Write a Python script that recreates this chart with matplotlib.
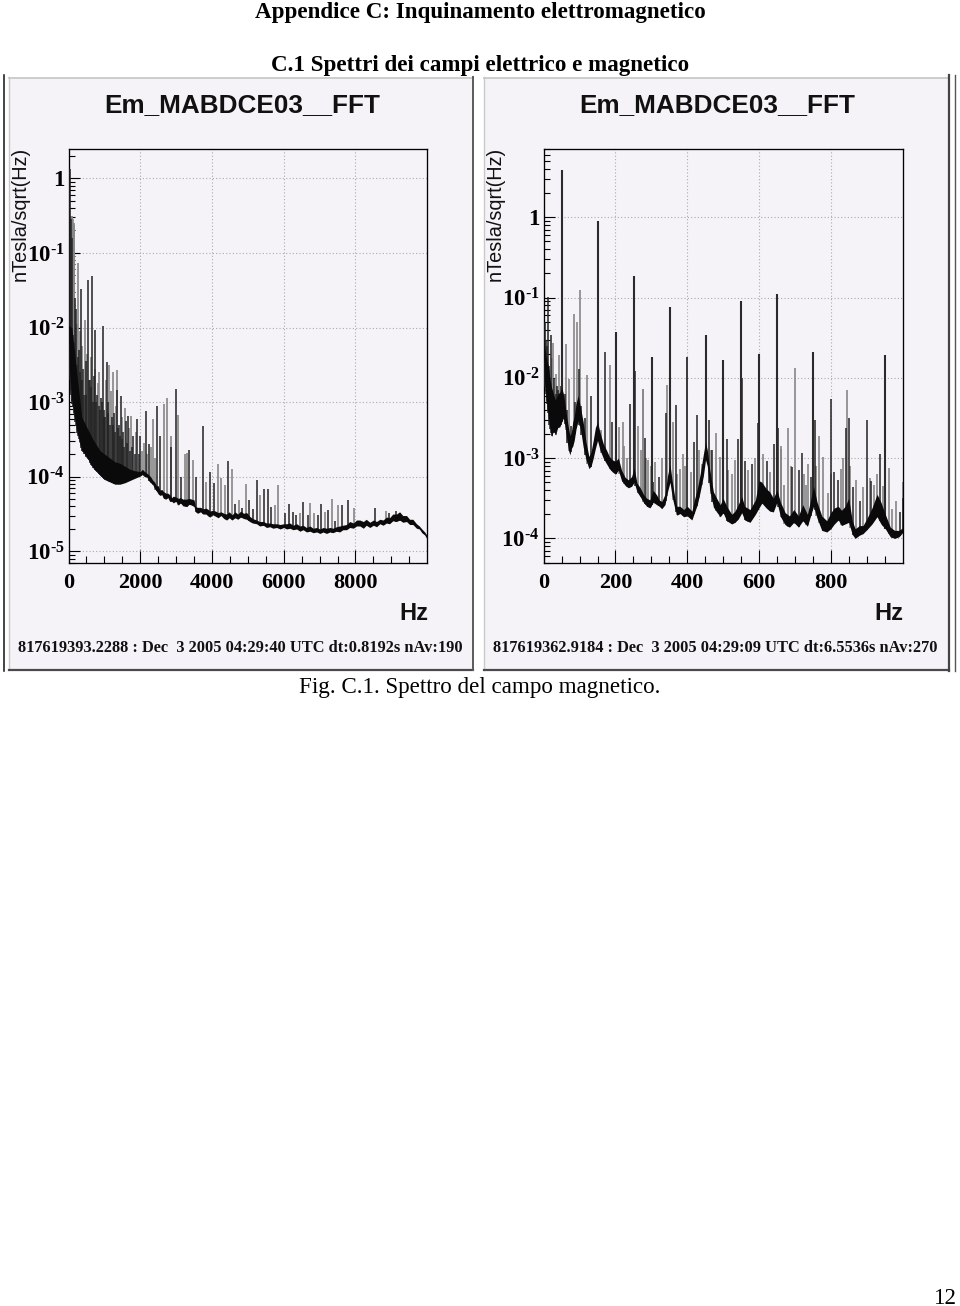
import numpy as np
import matplotlib
matplotlib.use("Agg")
import matplotlib.pyplot as plt
from matplotlib.patches import Rectangle
from matplotlib.lines import Line2D
from matplotlib.ticker import LogLocator, NullFormatter, FixedLocator

plt.rcParams['mathtext.fontset'] = 'custom'
plt.rcParams['mathtext.bf'] = 'Liberation Serif:bold'
plt.rcParams['mathtext.rm'] = 'Liberation Serif:bold'
plt.rcParams['mathtext.default'] = 'bf'

# ---------- text ----------
page_title = "Appendice C: Inquinamento elettromagnetico"
section_title = "C.1 Spettri dei campi elettrico e magnetico"
caption = "Fig. C.1. Spettro del campo magnetico."
page_number = "12"
panel_title = "Em_MABDCE03__FFT"
y_title = "nTesla/sqrt(Hz)"
x_title = "Hz"
left_stamp = "817619393.2288 : Dec  3 2005 04:29:40 UTC dt:0.8192s nAv:190"
right_stamp = "817619362.9184 : Dec  3 2005 04:29:09 UTC dt:6.5536s nAv:270"

left_xticks = [0, 2000, 4000, 6000, 8000]
right_xticks = [0, 200, 400, 600, 800]
left_yticks = [1, 1e-1, 1e-2, 1e-3, 1e-4, 1e-5]
right_yticks = [1, 1e-1, 1e-2, 1e-3, 1e-4]
left_ylabels = ["1", r"$10^{\text{-}1}$", r"$10^{\text{-}2}$", r"$10^{\text{-}3}$", r"$10^{\text{-}4}$", r"$10^{\text{-}5}$"]
right_ylabels = ["1", r"$10^{\text{-}1}$", r"$10^{\text{-}2}$", r"$10^{\text{-}3}$", r"$10^{\text{-}4}$"]

# ---------- left spectrum (log10 of nT/sqrt(Hz)) ----------
left_band_hz = [0, 25, 90, 228, 368, 524, 683, 878, 1017, 1156, 1295, 1435, 1574, 1713, 1853,
                2000, 2060, 2120, 2179, 2230, 2290, 2354, 2400, 2450, 2500, 2549, 2600, 2650, 2716, 2770, 2820, 2880, 2920,
                2990, 3060, 3120, 3190, 3293, 3360, 3430, 3500, 3540, 3600, 3680, 3750, 3830, 3900, 3942, 4020, 4100, 4170,
                4250, 4330, 4408, 4480, 4560, 4640, 4720, 4800, 4880, 4965, 5050, 5130, 5243, 5330, 5430, 5520, 5614, 5700,
                5800, 5900, 6000, 6079, 6170, 6260, 6360, 6450, 6540, 6636, 6730, 6820, 6920, 7007, 7100, 7190, 7290, 7369,
                7470, 7560, 7650, 7751, 7840, 7940, 8030, 8122, 8220, 8300, 8400, 8500, 8587, 8680, 8770, 8865, 8950, 9040,
                9144, 9230, 9320, 9423, 9510, 9600, 9701, 9780, 9850, 9930, 10000]
left_band_low = [-2.03, -2.54, -2.97, -3.37, -3.64, -3.75, -3.88, -3.98, -4.04, -4.07, -4.10, -4.10, -4.08, -4.05, -4.02,
                 -3.99, -3.97, -4.00, -4.00, -4.05, -4.08, -4.11, -4.16, -4.19, -4.23, -4.25, -4.24, -4.29, -4.30, -4.28, -4.33, -4.33, -4.35,
                 -4.33, -4.38, -4.35, -4.39, -4.40, -4.37, -4.38, -4.40, -4.47, -4.49, -4.47, -4.50, -4.50, -4.53, -4.54, -4.51, -4.53, -4.55,
                 -4.52, -4.56, -4.58, -4.55, -4.58, -4.55, -4.57, -4.54, -4.56, -4.57, -4.60, -4.62, -4.63, -4.66, -4.65, -4.68, -4.67, -4.69,
                 -4.68, -4.70, -4.68, -4.70, -4.69, -4.71, -4.70, -4.73, -4.71, -4.74, -4.73, -4.75, -4.74, -4.76, -4.74, -4.76, -4.74, -4.75,
                 -4.73, -4.74, -4.71, -4.71, -4.68, -4.69, -4.66, -4.66, -4.69, -4.65, -4.68, -4.65, -4.67, -4.63, -4.65, -4.62, -4.63, -4.59,
                 -4.60, -4.58, -4.61, -4.60, -4.64, -4.64, -4.69, -4.70, -4.75, -4.78, -4.84]
left_band_high = [-1.97, -1.98, -2.00, -2.60, -3.20, -3.35, -3.50, -3.65, -3.70, -3.75, -3.80, -3.82, -3.86, -3.90, -3.92,
                  -3.93, -3.90, -3.93, -3.95, -3.97, -4.00, -4.05, -4.07, -4.12, -4.12, -4.18, -4.17, -4.20, -4.22, -4.22, -4.24, -4.28, -4.26,
                  -4.27, -4.29, -4.28, -4.30, -4.30, -4.29, -4.30, -4.31, -4.40, -4.41, -4.41, -4.43, -4.42, -4.44, -4.46, -4.45, -4.46, -4.48,
                  -4.47, -4.49, -4.50, -4.47, -4.51, -4.47, -4.50, -4.46, -4.49, -4.48, -4.53, -4.56, -4.58, -4.60, -4.60, -4.62, -4.62, -4.63,
                  -4.63, -4.64, -4.63, -4.63, -4.62, -4.65, -4.63, -4.66, -4.65, -4.68, -4.66, -4.69, -4.68, -4.70, -4.68, -4.69, -4.68, -4.69,
                  -4.67, -4.66, -4.65, -4.64, -4.60, -4.62, -4.58, -4.58, -4.60, -4.57, -4.61, -4.58, -4.60, -4.57, -4.58, -4.54, -4.55, -4.50,
                  -4.50, -4.47, -4.52, -4.52, -4.57, -4.57, -4.63, -4.66, -4.70, -4.74, -4.79]

left_dark_hz = [40, 80, 110, 357, 543, 655, 747, 952, 1063, 1343, 1454, 1657, 1917, 2000, 2159, 2251, 2457, 2549, 2847, 2994,
                3142, 3357, 3552, 3747, 3950, 4053, 4451, 4646, 4850, 5036, 5148, 5251, 5446, 5549, 5649, 6031, 6134, 6245,
                6345, 6551, 6663, 6942, 7053, 7248, 7443, 7627, 7805, 8546, 8947, 9142, 9253,
                170, 210, 290, 410, 480, 600, 700, 800, 900, 1000, 1110, 1200, 1280, 1400, 1520, 1600, 1800,
                15, 30, 50, 70, 95, 125, 150, 190, 250, 270, 310, 340, 380, 440, 500, 560, 640, 680, 760, 840, 880, 930, 980,
                1030, 1090, 1150, 1240, 1300, 1370, 1430, 1500, 1560, 1640, 1720, 1780, 1850, 1960]
left_dark_log = [0.125, -0.55, -0.80, -1.48, -1.36, -1.31, -2.03, -1.98, -2.46, -2.84, -2.92, -3.19, -3.22, -3.46, -3.12, -3.56, -3.05, -3.46, -3.60, -2.83,
                 -4.00, -3.64, -4.00, -3.32, -3.94, -4.09, -3.79, -4.36, -4.42, -4.31, -4.43, -4.05, -4.16, -4.17, -4.41, -4.49, -4.36, -4.47,
                 -4.51, -4.34, -4.51, -4.51, -4.36, -4.44, -4.59, -4.38, -4.31, -4.42, -4.49, -4.46, -4.48,
                 -1.60, -1.75, -2.30, -2.55, -2.45, -2.70, -2.65, -2.90, -2.95, -3.10, -3.00, -3.20, -3.15, -3.30, -3.40, -3.25, -3.45,
                 -1.80, -1.90, -1.95, -2.00, -2.00, -2.10, -2.20, -2.30, -2.50, -2.40, -2.60, -2.70, -2.70, -2.90, -2.90, -2.70, -2.80, -3.00, -3.00, -3.05, -3.10, -3.00, -3.20,
                 -3.20, -3.15, -3.30, -3.30, -3.40, -3.35, -3.45, -3.50, -3.60, -3.55, -3.65, -3.60, -3.70, -3.70]
left_gray_hz = [20, 60, 100, 140, 256, 450, 830, 1128, 1240, 1360, 1565, 1750, 2345, 2652, 2744, 2855, 3050, 3253, 3292, 3460,
                3839, 4156, 4248, 4359, 4554, 4758, 4944, 5343, 5744, 5844, 6440, 6746, 6847, 7145, 7348, 7507, 7953,
                8864, 9437, 230, 320, 390, 520, 620, 730, 850, 1050, 1180, 1320, 1480, 1700, 1880, 2100, 2300,
                10, 30, 45, 75, 90, 120, 155, 2050, 2200, 2420]
left_gray_log = [-0.50, -0.55, -0.50, -0.62, -1.14, -1.90, -2.75, -2.50, -2.59, -2.57, -3.08, -3.19, -3.22, -3.03, -2.95, -3.46, -3.17, -3.69, -3.68, -3.77,
                 -4.07, -3.83, -4.01, -4.11, -3.90, -4.31, -4.10, -4.25, -4.38, -4.11, -4.49, -4.35, -4.49, -4.47, -4.30, -4.38, -4.42,
                 -4.46, -4.54, -1.95, -2.05, -2.25, -2.35, -2.40, -2.55, -2.60, -2.70, -2.85, -3.05, -3.20, -3.35, -3.40, -3.55, -3.60,
                 -0.52, -0.50, -0.50, -0.52, -0.50, -0.55, -0.60, -3.65, -3.70, -3.75]
left_main_hz = []
left_main_log = []

# ---------- right spectrum (log10 of nT/sqrt(Hz)) ----------
right_band_hz = [0, 2, 7, 13, 17, 22, 27, 33, 39, 45, 50, 55, 60, 64, 69, 73, 77, 81, 85, 90, 96, 103, 110, 118, 126, 132, 138, 144, 150,
                 157, 166, 175, 183, 191, 200, 208, 217, 227, 236, 245, 252, 260, 269, 278, 287, 296, 305, 315, 322, 329, 338, 345, 352,
                 358, 365, 371, 380, 390, 400, 413, 420, 428, 436, 445, 451, 456, 463, 473, 482, 492, 500, 510, 524, 533, 542, 552, 560,
                 575, 590, 600, 608, 620, 630, 640, 650, 660, 673, 685, 697, 710, 722, 735, 745, 752, 762, 775, 789, 800, 810, 821, 830,
                 840, 850, 860, 868, 880, 890, 901, 915, 929, 940, 952, 966, 978, 990, 1000]
right_band_low = [-1.70, -2.03, -2.25, -2.48, -2.62, -2.73, -2.66, -2.71, -2.62, -2.61, -2.55, -2.50, -2.62, -2.75, -2.90, -2.96, -2.88, -2.85, -2.78, -2.64, -2.53, -2.65, -2.86, -3.02, -3.13, -3.10, -3.00, -2.88, -2.78,
                  -2.90, -3.00, -3.07, -3.13, -3.17, -3.20, -3.15, -3.28, -3.34, -3.37, -3.35, -3.30, -3.42, -3.48, -3.55, -3.60, -3.62, -3.55, -3.58, -3.60, -3.63, -3.58, -3.42, -3.30,
                  -3.48, -3.62, -3.71, -3.69, -3.73, -3.72, -3.77, -3.68, -3.58, -3.42, -3.22, -3.02, -3.10, -3.40, -3.61, -3.67, -3.73, -3.68, -3.78, -3.82, -3.80, -3.76, -3.68, -3.77,
                  -3.80, -3.70, -3.62, -3.56, -3.62, -3.66, -3.67, -3.55, -3.73, -3.83, -3.86, -3.80, -3.86, -3.78, -3.85, -3.70, -3.60, -3.75, -3.90, -3.92, -3.88, -3.82, -3.77, -3.84,
                  -3.82, -3.80, -3.95, -4.00, -3.96, -3.94, -3.89, -3.82, -3.73, -3.82, -3.88, -3.98, -4.00, -3.98, -3.93]
right_band_high = [-1.50, -1.60, -1.75, -1.85, -2.00, -2.12, -2.20, -2.28, -2.20, -2.18, -2.12, -2.20, -2.35, -2.48, -2.62, -2.72, -2.68, -2.55, -2.48, -2.32, -2.22, -2.38, -2.55, -2.80, -2.98, -2.92, -2.78, -2.62, -2.55,
                   -2.68, -2.82, -2.90, -2.98, -3.02, -3.04, -3.00, -3.15, -3.24, -3.27, -3.23, -3.12, -3.31, -3.37, -3.45, -3.50, -3.52, -3.40, -3.46, -3.52, -3.54, -3.45, -3.22, -3.08,
                   -3.28, -3.48, -3.60, -3.60, -3.64, -3.60, -3.66, -3.52, -3.38, -3.20, -2.95, -2.80, -2.90, -3.15, -3.42, -3.50, -3.58, -3.50, -3.60, -3.70, -3.66, -3.58, -3.48, -3.60,
                   -3.64, -3.52, -3.28, -3.30, -3.38, -3.42, -3.50, -3.40, -3.55, -3.68, -3.72, -3.64, -3.72, -3.58, -3.70, -3.50, -3.35, -3.55, -3.72, -3.78, -3.68, -3.62, -3.60, -3.65,
                   -3.60, -3.50, -3.78, -3.88, -3.84, -3.84, -3.75, -3.62, -3.45, -3.55, -3.70, -3.86, -3.90, -3.90, -3.87]

right_main_hz = [52, 150, 251, 352, 451, 501, 551, 601, 651, 751, 952, 201, 301]
right_main_log = [0.59, -0.05, -0.73, -1.12, -1.47, -1.78, -1.04, -1.70, -0.95, -1.68, -1.72, -1.43, -1.74]
right_dark_hz = [171, 11, 20, 6, 50, 99, 131, 190, 241, 255, 281,
                 321, 340, 368, 400, 419, 427, 461, 470, 510, 542, 552, 561, 581, 597, 621, 643, 653, 692, 720, 711, 744, 755, 802, 809,
                 819, 843, 850, 861, 881, 901, 913, 936, 992, 1000, 3, 16, 30, 38, 305, 8,
                 4, 9, 12, 18, 22, 25, 35, 41, 47, 58, 66, 75, 88, 105, 115]
right_dark_log = [-1.68, -0.99, -1.47, -1.53, -1.69, -1.89, -2.23, -2.55, -2.32, -1.92, -2.75,
                  -3.23, -2.44, -2.34, -1.74, -2.80, -2.46, -2.52, -2.90, -2.76, -2.76, -2.00, -3.03, -3.07, -2.56, -3.04, -2.82, -2.62, -3.11, -2.94, -3.15, -3.23, -2.53, -2.26, -3.17,
                  -3.27, -2.62, -2.50, -3.36, -3.54, -2.53, -3.29, -2.95, -3.67, -3.50, -1.30, -1.85, -2.00, -2.10, -3.30, -1.60,
                  -1.80, -1.75, -1.90, -2.05, -2.15, -2.20, -2.20, -2.15, -2.10, -2.20, -2.40, -2.60, -2.30, -2.35, -2.50]
right_gray_hz = [100, 85, 94, 61, 43, 27, 70, 122, 185, 400, 701, 278, 343, 160, 211, 220, 232, 276, 290, 310, 360, 380, 410, 440,
                 480, 492, 532, 631, 661, 671, 682, 731, 736, 767, 779, 791, 829, 846, 871, 890, 921, 961, 972, 982, 1000, 33, 24, 14,
                 225, 262, 270, 285, 298, 330, 372, 388, 395, 432, 465, 515, 525, 570, 590, 610, 660, 690, 725, 760, 800, 835, 855, 910, 930, 945]
right_gray_log = [-0.91, -1.20, -1.30, -1.58, -1.72, -1.57, -2.02, -1.96, -1.84, -1.74, -1.88, -2.14, -2.09, -2.65, -2.61, -2.55, -3.00, -2.14, -3.02, -3.05, -2.55, -3.13, -3.17, -3.07,
                  -2.69, -2.99, -3.02, -3.17, -2.88, -3.34, -2.62, -3.34, -3.07, -2.73, -2.99, -3.44, -3.13, -2.15, -3.27, -3.36, -3.34, -3.12, -3.63, -3.54, -3.30, -1.95, -1.75, -1.90,
                  -2.85, -2.60, -2.90, -3.00, -3.10, -3.00, -3.20, -2.95, -3.10, -2.90, -2.90, -3.15, -3.20, -3.15, -3.00, -2.95, -2.85, -3.10, -3.20, -3.10, -3.20, -3.00, -3.10, -3.25, -3.20, -3.35]

W, H = 960, 1306
SERIF = "Liberation Serif"
SANS = "Liberation Sans"
PANEL = "#f5f3f7"
fig = plt.figure(figsize=(W / 100, H / 100), dpi=100, facecolor="white")


def fx(px):
    return px / W


def fy(py):
    return 1 - py / H


def rect(x0, y0, x1, y1, **kw):
    fig.add_artist(Rectangle((fx(x0), fy(y1)), (x1 - x0) / W, (y1 - y0) / H,
                             transform=fig.transFigure, zorder=-2, **kw))


def vline(x, y0, y1, color, lw):
    fig.add_artist(Line2D([fx(x), fx(x)], [fy(y0), fy(y1)], color=color, lw=lw,
                          transform=fig.transFigure, zorder=-1))


def hline(x0, x1, y, color, lw):
    fig.add_artist(Line2D([fx(x0), fx(x1)], [fy(y), fy(y)], color=color, lw=lw,
                          transform=fig.transFigure, zorder=-1))


def stems(ax, hz, tops, band_hz, band_low, color, lw, z):
    if len(hz) == 0:
        return
    base = np.interp(hz, band_hz, band_low)
    ax.vlines(hz, 10.0 ** base, 10.0 ** np.array(tops), color=color, lw=lw, zorder=z)


def panel(x0, x1, ax_left, ax_right, xlim, ylim, xticks, xminor, yticks, ylabels,
          band_hz, band_low, band_high, dark_hz, dark_log, gray_hz, gray_log, main_hz, main_log,
          stamp, stamp_x, ylab_x, title_x):
    rect(x0, 78, x1, 670, facecolor=PANEL, edgecolor="none")
    hline(x0, x1, 77.5, "#c9c9c9", 1.3)
    vline(x0, 77, 670, "#c9c9c9", 1.0)
    hline(x0, x1, 669.8, "#4a4a4a", 1.6)
    vline(x1, 77, 670, "#5a5a5a", 1.4)

    ax = fig.add_axes([fx(ax_left), fy(563.3), (ax_right - ax_left) / W, (563.3 - 148.7) / H],
                      facecolor=PANEL)
    ax.set_yscale("log")
    ax.set_xlim(*xlim)
    ax.set_ylim(*ylim)
    ax.grid(True, which="major", color="#ababab", lw=0.8, ls=(0, (1, 2)), zorder=0)
    ax.set_axisbelow(True)

    stems(ax, gray_hz, gray_log, band_hz, band_low, "#868686", 1.2, 2)
    stems(ax, dark_hz, dark_log, band_hz, band_low, "#222222", 1.1, 3)
    stems(ax, main_hz, main_log, band_hz, band_low, "#2a2a2a", 1.5, 3)
    ax.fill_between(band_hz, 10.0 ** np.array(band_low), 10.0 ** np.array(band_high),
                    color="#0a0a0a", lw=0, zorder=4)

    for s in ax.spines.values():
        s.set_linewidth(0.95)
        s.set_color("black")
    ax.xaxis.set_major_locator(FixedLocator(xticks))
    ax.xaxis.set_minor_locator(FixedLocator(xminor))
    ax.set_xticklabels([str(v) for v in xticks], family=SERIF, weight="bold", fontsize=16)
    ax.yaxis.set_major_locator(FixedLocator(yticks))
    ax.set_yticklabels(ylabels, family=SERIF, weight="bold", fontsize=16.5)
    ax.yaxis.set_minor_locator(LogLocator(base=10, subs=np.arange(2, 10), numticks=30))
    ax.yaxis.set_minor_formatter(NullFormatter())
    ax.tick_params(axis="x", which="major", direction="in", length=9.5, width=0.8, pad=7)
    ax.tick_params(axis="x", which="minor", direction="in", length=5, width=0.8)
    ax.tick_params(axis="y", which="major", direction="in", length=8, width=0.8, pad=3)
    ax.tick_params(axis="y", which="minor", direction="in", length=4.5, width=0.8)

    fig.text(fx(title_x), fy(105.5), panel_title, family=SANS, weight="bold", fontsize=18.8,
             ha="center", va="center", color="#111111")
    fig.text(fx(ylab_x), fy(147), y_title, family=SANS, fontsize=14.3, rotation=90,
             ha="center", va="top", color="#111111")
    fig.text(fx(ax_right + 1), fy(613), x_title, family=SANS, weight="bold", fontsize=17,
             ha="right", va="center", color="#111111")
    fig.text(fx(stamp_x), fy(647.5), stamp, family=SERIF, weight="bold", fontsize=11.84,
             ha="left", va="center", color="#111111")
    return ax


panel(8.5, 473.3, 68.5, 427.2, (0, 10000), (10 ** -5.16, 10 ** 0.397), left_xticks,
      [500, 1000, 1500, 2500, 3000, 3500, 4500, 5000, 5500, 6500, 7000, 7500, 8500, 9000, 9500],
      left_yticks, left_ylabels, left_band_hz, left_band_low, left_band_high,
      left_dark_hz, left_dark_log, left_gray_hz, left_gray_log, left_main_hz, left_main_log,
      left_stamp, 17.5, 20.3, 242.5)
panel(484.3, 949, 543.7, 902.5, (0, 1000), (10 ** -4.31, 10 ** 0.855), right_xticks,
      [50, 100, 150, 250, 300, 350, 450, 500, 550, 650, 700, 750, 850, 900, 950],
      right_yticks, right_ylabels, right_band_hz, right_band_low, right_band_high,
      right_dark_hz, right_dark_log, right_gray_hz, right_gray_log, right_main_hz, right_main_log,
      right_stamp, 492.5, 495, 717.5)

vline(3.8, 75, 671, "#111111", 1.1)
vline(949.3, 75, 671, "#444444", 1.6)
vline(954.5, 75, 671, "#555555", 1.0)

fig.text(fx(480), fy(12.5), page_title, family=SERIF, weight="bold", fontsize=16.6, ha="center", va="center")
fig.text(fx(480), fy(65), section_title, family=SERIF, weight="bold", fontsize=16.6, ha="center", va="center")
fig.text(fx(480), fy(688), caption, family=SERIF, fontsize=16.6, ha="center", va="center")
fig.text(fx(957), fy(1298), page_number, family=SERIF, fontsize=16.6, ha="right", va="center")

fig.savefig("out.png", dpi=100, facecolor="white")
